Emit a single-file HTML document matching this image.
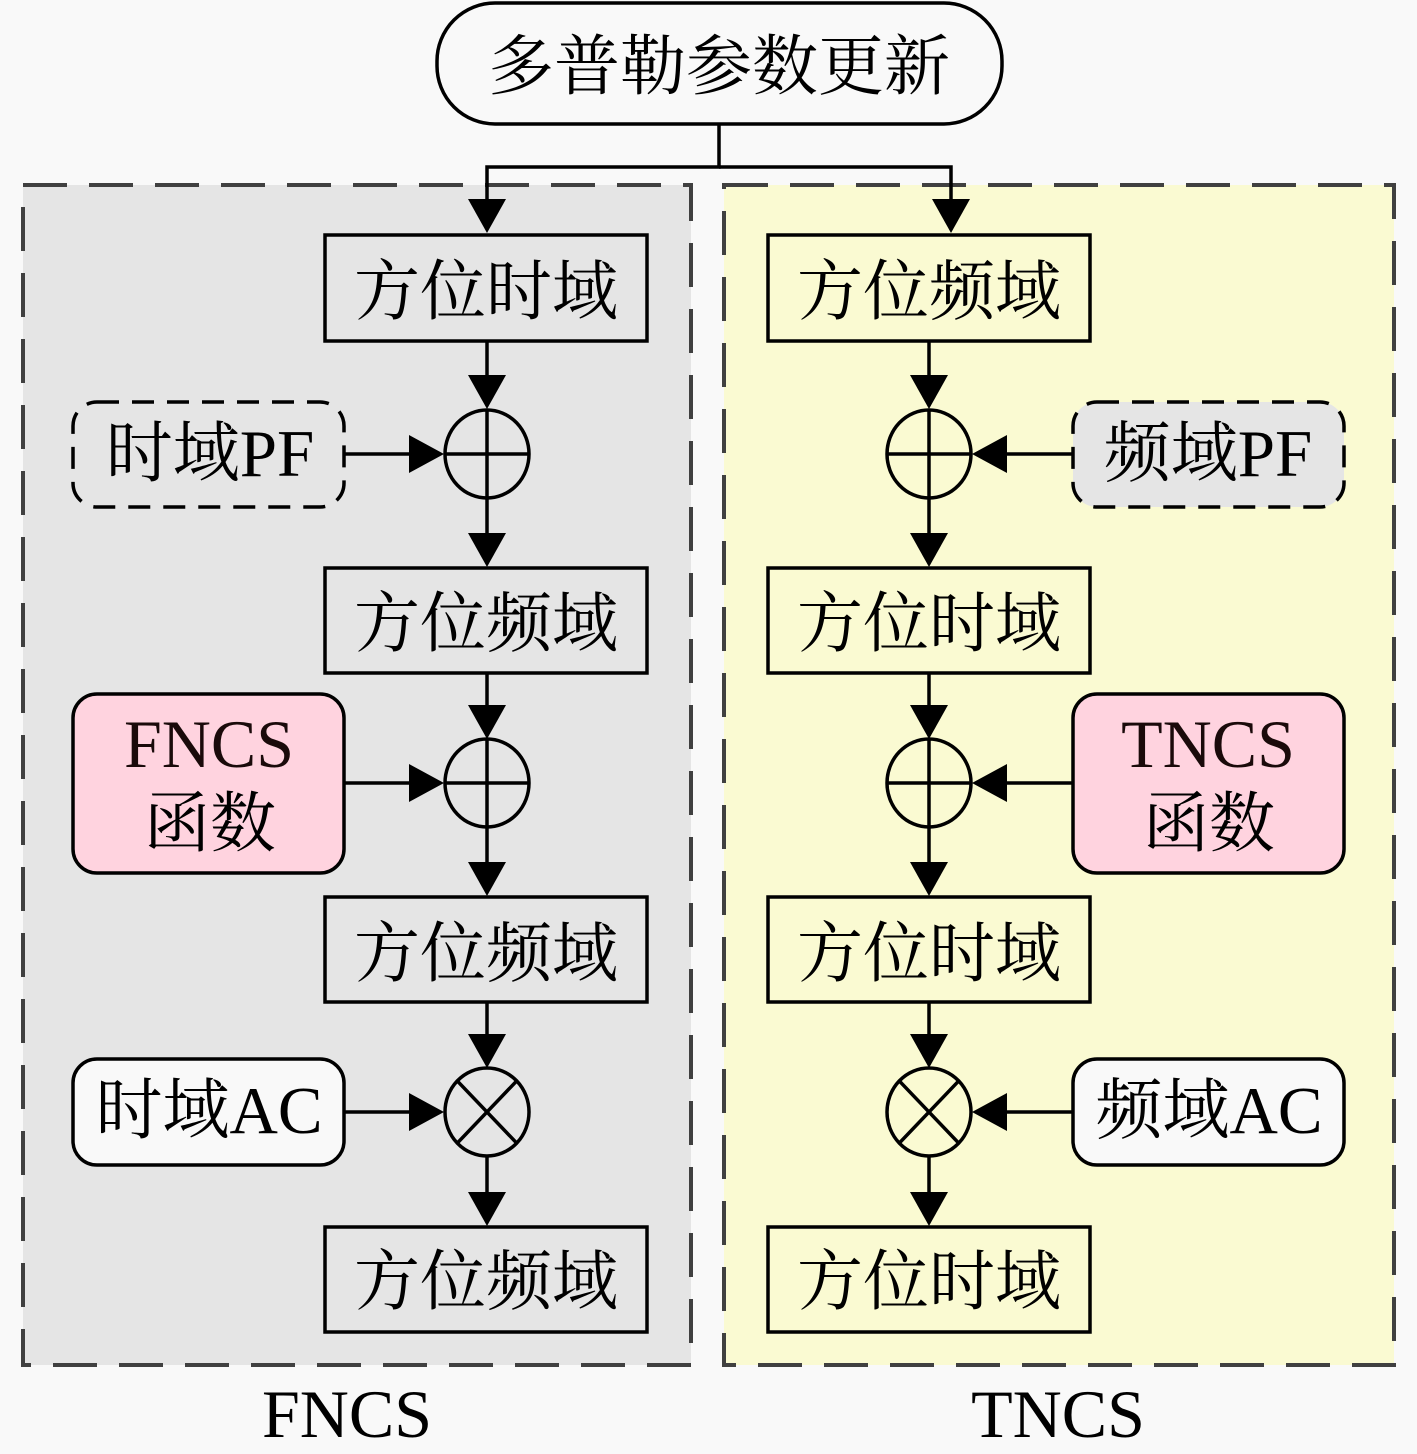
<!DOCTYPE html>
<html>
<head>
<meta charset="utf-8">
<style>
  html,body{margin:0;padding:0;background:#f9f9f9;}
  svg{display:block;}
  .cjk{font-family:"Noto Serif CJK SC","Noto Serif CJK SC",serif;font-size:66px;fill:#000;}
  .mix{font-family:"Liberation Serif","Noto Serif CJK SC",serif;font-size:67px;fill:#000;}
  .lat{font-family:"Liberation Serif",serif;font-size:68px;fill:#000;}
</style>
</head>
<body>
<svg width="1417" height="1454" viewBox="0 0 1417 1454" xmlns="http://www.w3.org/2000/svg">
  <rect x="0" y="0" width="1417" height="1454" fill="#f9f9f9"/>

  <!-- Regions -->
  <rect x="23" y="185" width="668" height="1180" fill="#e5e5e5" stroke="#404040" stroke-width="4" stroke-dasharray="44 22"/>
  <rect x="724" y="185" width="670" height="1180" fill="#fafad2" stroke="#404040" stroke-width="4" stroke-dasharray="44 22"/>

  <!-- Top box -->
  <rect x="437" y="3" width="565" height="121" rx="58" ry="58" fill="#f9f9f9" stroke="#000" stroke-width="3.5"/>
  <text class="cjk" x="719" y="89" text-anchor="middle">多普勒参数更新</text>

  <!-- Top connectors -->
  <g stroke="#000" stroke-width="3.5" fill="none">
    <polyline points="719,124 719,167 487,167 487,200"/>
    <polyline points="719,167 951,167 951,200"/>
  </g>

  <!-- Left column vertical lines -->
  <g stroke="#000" stroke-width="3.5" fill="none">
    <line x1="487" y1="342" x2="487" y2="380"/>
    <line x1="487" y1="409" x2="487" y2="540"/>
    <line x1="487" y1="674" x2="487" y2="710"/>
    <line x1="487" y1="739" x2="487" y2="870"/>
    <line x1="487" y1="1002" x2="487" y2="1040"/>
    <line x1="487" y1="1156" x2="487" y2="1200"/>
    <!-- horizontal -->
    <line x1="344" y1="454" x2="415" y2="454"/>
    <line x1="344" y1="783" x2="415" y2="783"/>
    <line x1="344" y1="1112" x2="415" y2="1112"/>
  </g>
  <!-- Right column vertical lines -->
  <g stroke="#000" stroke-width="3.5" fill="none">
    <line x1="929" y1="342" x2="929" y2="380"/>
    <line x1="929" y1="409" x2="929" y2="540"/>
    <line x1="929" y1="674" x2="929" y2="710"/>
    <line x1="929" y1="739" x2="929" y2="870"/>
    <line x1="929" y1="1002" x2="929" y2="1040"/>
    <line x1="929" y1="1156" x2="929" y2="1200"/>
    <line x1="1073" y1="454" x2="1000" y2="454"/>
    <line x1="1073" y1="783" x2="1000" y2="783"/>
    <line x1="1073" y1="1112" x2="1000" y2="1112"/>
  </g>

  <!-- Arrowheads -->
  <g fill="#000">
    <!-- left down -->
    <polygon points="468,199 506,199 487,233"/>
    <polygon points="468,375 506,375 487,409"/>
    <polygon points="468,533 506,533 487,567"/>
    <polygon points="468,705 506,705 487,739"/>
    <polygon points="468,862 506,862 487,896"/>
    <polygon points="468,1034 506,1034 487,1068"/>
    <polygon points="468,1192 506,1192 487,1226"/>
    <!-- right down -->
    <polygon points="932,199 970,199 951,233"/>
    <polygon points="910,375 948,375 929,409"/>
    <polygon points="910,533 948,533 929,567"/>
    <polygon points="910,705 948,705 929,739"/>
    <polygon points="910,862 948,862 929,896"/>
    <polygon points="910,1034 948,1034 929,1068"/>
    <polygon points="910,1192 948,1192 929,1226"/>
    <!-- left horizontal -->
    <polygon points="409,435 409,473 444,454"/>
    <polygon points="409,764 409,802 444,783"/>
    <polygon points="409,1093 409,1131 444,1112"/>
    <!-- right horizontal -->
    <polygon points="1007,435 1007,473 972,454"/>
    <polygon points="1007,764 1007,802 972,783"/>
    <polygon points="1007,1093 1007,1131 972,1112"/>
  </g>

  <!-- Circles left -->
  <g stroke="#000" stroke-width="3.5" fill="none">
    <ellipse cx="487" cy="454" rx="42" ry="44"/>
    <line x1="445" y1="454" x2="529" y2="454"/>
    <ellipse cx="487" cy="783" rx="42" ry="44"/>
    <line x1="445" y1="783" x2="529" y2="783"/>
    <ellipse cx="487" cy="1112" rx="42" ry="44"/>
    <line x1="457.3" y1="1080.9" x2="516.7" y2="1143.1"/>
    <line x1="516.7" y1="1080.9" x2="457.3" y2="1143.1"/>
    <!-- right -->
    <ellipse cx="929" cy="454" rx="42" ry="44"/>
    <line x1="887" y1="454" x2="971" y2="454"/>
    <ellipse cx="929" cy="783" rx="42" ry="44"/>
    <line x1="887" y1="783" x2="971" y2="783"/>
    <ellipse cx="929" cy="1112" rx="42" ry="44"/>
    <line x1="899.3" y1="1080.9" x2="958.7" y2="1143.1"/>
    <line x1="958.7" y1="1080.9" x2="899.3" y2="1143.1"/>
  </g>

  <!-- Main boxes left -->
  <g stroke="#000" stroke-width="3.5" fill="none">
    <rect x="325" y="235" width="322" height="106"/>
    <rect x="325" y="568" width="322" height="105"/>
    <rect x="325" y="897" width="322" height="105"/>
    <rect x="325" y="1227" width="322" height="105"/>
    <rect x="768" y="235" width="322" height="106"/>
    <rect x="768" y="568" width="322" height="105"/>
    <rect x="768" y="897" width="322" height="105"/>
    <rect x="768" y="1227" width="322" height="105"/>
  </g>
  <text class="cjk" x="486" y="314" text-anchor="middle">方位时域</text>
  <text class="cjk" x="486" y="646" text-anchor="middle">方位频域</text>
  <text class="cjk" x="486" y="976" text-anchor="middle">方位频域</text>
  <text class="cjk" x="486" y="1304" text-anchor="middle">方位频域</text>
  <text class="cjk" x="929" y="314" text-anchor="middle">方位频域</text>
  <text class="cjk" x="929" y="646" text-anchor="middle">方位时域</text>
  <text class="cjk" x="929" y="976" text-anchor="middle">方位时域</text>
  <text class="cjk" x="929" y="1304" text-anchor="middle">方位时域</text>

  <!-- Side boxes -->
  <rect x="73" y="402" width="271" height="105" rx="24" ry="24" fill="#e5e5e5" stroke="#000" stroke-width="3.5" stroke-dasharray="22 13"/>
  <rect x="1073" y="402" width="271" height="105" rx="24" ry="24" fill="#e5e5e5" stroke="#000" stroke-width="3.5" stroke-dasharray="22 13"/>
  <rect x="73" y="694" width="271" height="179" rx="24" ry="24" fill="#ffd3df" stroke="#000" stroke-width="3.5"/>
  <rect x="1073" y="694" width="271" height="179" rx="24" ry="24" fill="#ffd3df" stroke="#000" stroke-width="3.5"/>
  <rect x="73" y="1059" width="271" height="106" rx="24" ry="24" fill="#f9f9f9" stroke="#000" stroke-width="3.5"/>
  <rect x="1073" y="1059" width="271" height="106" rx="24" ry="24" fill="#f9f9f9" stroke="#000" stroke-width="3.5"/>

  <text class="mix" x="210" y="476" text-anchor="middle">时域PF</text>
  <text class="mix" x="1208" y="476" text-anchor="middle">频域PF</text>
  <text class="lat" x="209" y="767" text-anchor="middle" style="fill:#1a0a0a">FNCS</text>
  <text class="cjk" x="210" y="846" text-anchor="middle">函数</text>
  <text class="lat" x="1208" y="767" text-anchor="middle" style="fill:#1a0a0a">TNCS</text>
  <text class="cjk" x="1209" y="846" text-anchor="middle">函数</text>
  <text class="mix" x="209" y="1133" text-anchor="middle">时域AC</text>
  <text class="mix" x="1209" y="1133" text-anchor="middle">频域AC</text>

  <!-- Bottom labels -->
  <text class="lat" x="347" y="1437" text-anchor="middle">FNCS</text>
  <text class="lat" x="1058" y="1437" text-anchor="middle">TNCS</text>
</svg>
</body>
</html>
